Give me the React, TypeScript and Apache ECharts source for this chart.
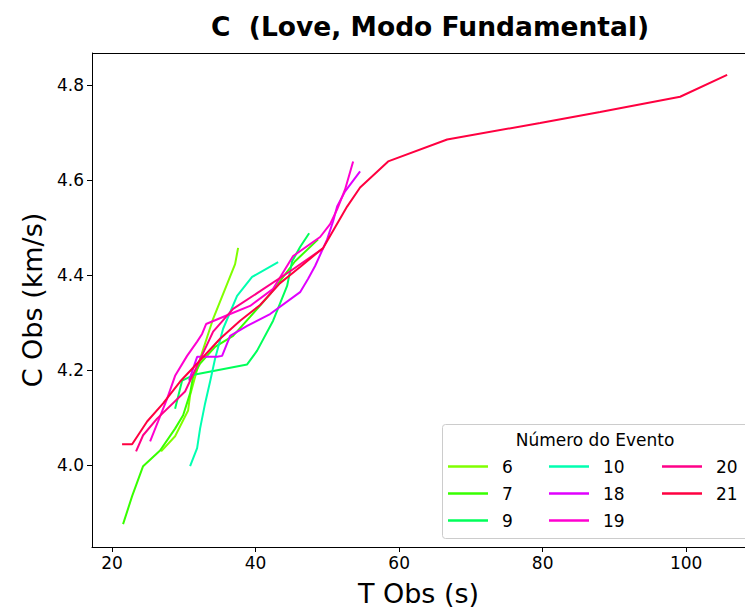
import React, { useEffect, useRef } from "react";
import * as echarts from "echarts";

const TITLE = "C  (Love, Modo Fundamental)";
const X_NAME = "T Obs (s)";
const Y_NAME = "C Obs (km/s)";
const LEGEND_TITLE = "Número do Evento";
const X_TICKS = [20, 40, 60, 80, 100];
const Y_TICKS = [4.0, 4.2, 4.4, 4.6, 4.8];

const EVENTS = ["6", "7", "9", "10", "18", "19", "20", "21"];
const COLORS = ["#80ff00", "#37ff00", "#00ff59", "#00ffb0", "#e000ff", "#ff00d0", "#ff0088", "#ff0040"];

const T6 = [26.83, 28.78, 30.59, 30.87, 32.26, 34.08, 37.14, 37.56];
const C6 = [4.029, 4.061, 4.115, 4.147, 4.224, 4.308, 4.423, 4.457];

const T7 = [21.53, 22.79, 24.32, 26.69, 28.78, 29.9, 30.87, 31.29, 32.26, 34.35, 36.86, 39.23, 42.02, 45.5, 48.71];
const C7 = [3.876, 3.935, 3.998, 4.031, 4.077, 4.105, 4.151, 4.186, 4.214, 4.249, 4.272, 4.312, 4.36, 4.429, 4.475];

const T9 = [28.78, 29.76, 31.57, 38.82, 40.21, 42.44, 44.39, 45.09, 46.2, 47.46];
const C9 = [4.119, 4.178, 4.191, 4.212, 4.241, 4.304, 4.377, 4.429, 4.459, 4.488];

const T10 = [30.87, 31.85, 32.26, 32.96, 33.66, 34.35, 35.47, 37.42, 39.51, 43.14];
const C10 = [3.998, 4.036, 4.077, 4.13, 4.176, 4.224, 4.287, 4.356, 4.396, 4.427];

const T18 = [30.73, 31.85, 34.63, 35.33, 36.45, 38.82, 42.02, 46.2, 47.32, 48.29, 49.97, 50.8, 51.36, 52.47, 54.56];
const C18 = [4.178, 4.228, 4.228, 4.23, 4.272, 4.293, 4.318, 4.364, 4.392, 4.419, 4.475, 4.513, 4.544, 4.576, 4.618];

const T19 = [25.3, 26.41, 27.67, 28.78, 30.45, 31.85, 32.54, 33.1, 36.45, 39.23, 42.44, 45.23, 48.99, 50.38, 51.36, 52.47, 53.59];
const C19 = [4.05, 4.092, 4.14, 4.188, 4.23, 4.26, 4.276, 4.297, 4.318, 4.335, 4.371, 4.44, 4.48, 4.507, 4.538, 4.58, 4.639];

const T20 = [23.34, 24.32, 26.27, 30.17, 31.85, 34.08, 36.86, 40.63, 44.81, 49.41];
const C20 = [4.029, 4.063, 4.098, 4.155, 4.209, 4.281, 4.329, 4.366, 4.408, 4.456];

const T21 = [21.39, 22.79, 24.88, 27.11, 29.48, 31.85, 35.05, 37.84, 40.63, 43.41, 46.2, 49.41, 52.75, 54.56, 58.47, 66.69, 79.65, 88.01, 99.16, 105.71];
const C21 = [4.044, 4.044, 4.092, 4.13, 4.176, 4.214, 4.266, 4.304, 4.337, 4.383, 4.417, 4.457, 4.544, 4.584, 4.639, 4.685, 4.72, 4.743, 4.775, 4.821];

const SERIES_T = [T6, T7, T9, T10, T18, T19, T20, T21];
const SERIES_C = [C6, C7, C9, C10, C18, C19, C20, C21];

const FONT = "DejaVu Sans";

export default function App() {
  const ref = useRef<HTMLDivElement>(null);
  useEffect(() => {
    if (!ref.current) return;
    const chart = echarts.init(ref.current, undefined, { renderer: "svg" });
    const series = EVENTS.map((name, i) => ({
      name,
      type: "line",
      data: SERIES_T[i].map((t, j) => [t, SERIES_C[i][j]]),
      showSymbol: false,
      symbol: "none",
      lineStyle: { width: 2, color: COLORS[i] },
      itemStyle: { color: COLORS[i] },
      z: 2 + i,
    }));
    const legendBase = {
      orient: "vertical",
      icon: "rect",
      itemWidth: 40,
      itemHeight: 2.5,
      itemGap: 10,
      textStyle: { fontFamily: FONT, fontSize: 17, lineHeight: 17, color: "#000", padding: [0, 0, 0, 9] },
      padding: 0,
      selectedMode: false,
      z: 20,
    };
    chart.setOption({
      animation: false,
      backgroundColor: "#ffffff",
      grid: { left: 92, right: 0, top: 53, bottom: 63, show: false },
      xAxis: {
        type: "value",
        min: 17.2,
        max: 108.2,
        name: X_NAME,
        nameLocation: "middle",
        nameGap: 33,
        nameTextStyle: { fontFamily: FONT, fontSize: 27, color: "#000" },
        axisLine: { show: true, lineStyle: { color: "#000", width: 1 } },
        axisTick: { show: true, inside: false, length: 5, lineStyle: { color: "#000" }, customValues: X_TICKS },
        axisLabel: { fontFamily: FONT, fontSize: 17, color: "#000", margin: 7, customValues: X_TICKS },
        splitLine: { show: false },
      },
      yAxis: {
        type: "value",
        min: 3.828,
        max: 4.867,
        name: Y_NAME,
        nameLocation: "middle",
        nameGap: 46,
        nameRotate: 90,
        nameTextStyle: { fontFamily: FONT, fontSize: 27, color: "#000" },
        axisLine: { show: true, lineStyle: { color: "#000", width: 1 } },
        axisTick: { show: true, inside: false, length: 5, lineStyle: { color: "#000" }, customValues: Y_TICKS },
        axisLabel: { fontFamily: FONT, fontSize: 17, color: "#000", margin: 8, customValues: Y_TICKS, formatter: (v: number) => v.toFixed(1) },
        splitLine: { show: false },
      },
      legend: [
        { ...legendBase, left: 448, top: 458, data: EVENTS.slice(0, 3) },
        { ...legendBase, left: 549, top: 458, data: EVENTS.slice(3, 6) },
        { ...legendBase, left: 662, top: 458, data: EVENTS.slice(6, 8) },
      ],
      graphic: [
        {
          type: "line",
          shape: { x1: 92, y1: 53.5, x2: 745, y2: 53.5 },
          style: { stroke: "#000", lineWidth: 1 },
          z: 5,
        },
        {
          type: "text",
          x: 430,
          y: 26,
          style: { text: TITLE, fontFamily: FONT, fontSize: 26.5, fontWeight: "bold", fill: "#000", textAlign: "center", textVerticalAlign: "middle" },
        },
        {
          type: "rect",
          shape: { x: 442.5, y: 424.5, width: 320, height: 114, r: 3 },
          style: { fill: "rgba(255,255,255,0.8)", stroke: "#cccccc", lineWidth: 1 },
          z: 10,
        },
        {
          type: "text",
          x: 595,
          y: 440,
          style: { text: LEGEND_TITLE, fontFamily: FONT, fontSize: 17, fill: "#000", textAlign: "center", textVerticalAlign: "middle" },
          z: 11,
        },
      ],
      series,
    });
    return () => chart.dispose();
  }, []);
  return <div ref={ref} style={{ width: 745, height: 612, position: "absolute", left: 0, top: 0 }} />;
}
